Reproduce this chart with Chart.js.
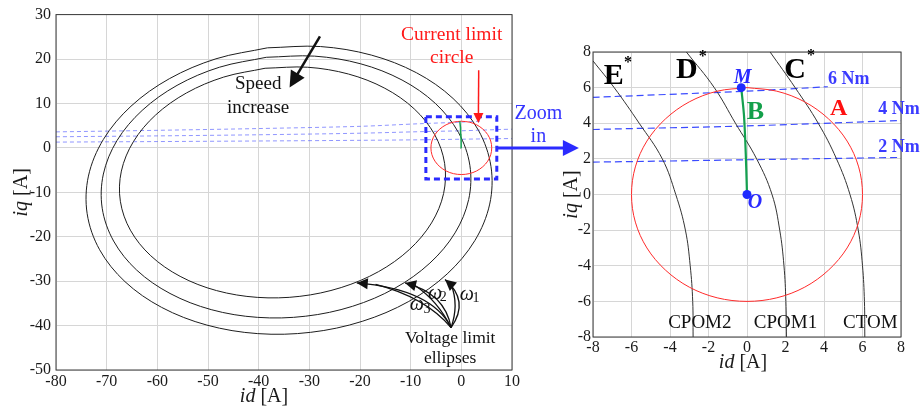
<!DOCTYPE html>
<html lang="en">
<head>
<meta charset="UTF-8">
<title>Voltage and current limits in the id-iq plane</title>
<script src="https://cdn.jsdelivr.net/npm/chart.js"></script>
<style>
  body { margin: 0; background: #fff; }
  #wrap { position: relative; width: 922px; height: 416px; }
  canvas { position: absolute; top: 0; }
</style>
</head>
<body>
<div id="wrap">
  <canvas id="fullChart" width="600" height="416" style="left:0"></canvas>
  <canvas id="zoomChart" width="362" height="416" style="left:560px"></canvas>
</div>
<script>
// tick labels
const fullIdTicks = [-80, -70, -60, -50, -40, -30, -20, -10, 0, 10];
const fullIqTicks = [-50, -40, -30, -20, -10, 0, 10, 20, 30];
const zoomTicks = [-8, -6, -4, -2, 0, 2, 4, 6, 8];

// voltage limit ellipses [id, iq] (A)
const omega1 = [[-38.27,22.52],[-48.43,20.05],[-57.63,15.57],[-65.2,9.38],[-70.65,1.9],[-73.6,-6.35],[-73.85,-14.82],[-71.39,-22.93],[-66.38,-30.12],[-59.16,-35.9],[-50.23,-39.89],[-40.19,-41.81],[-29.73,-41.52],[-19.57,-39.05],[-10.37,-34.57],[-2.8,-28.38],[2.65,-20.9],[5.6,-12.65],[5.85,-4.18],[3.39,3.93],[-1.63,11.12],[-8.84,16.9],[-17.77,20.89],[-27.81,22.81],[-38.27,22.52]];
const omega2 = [[-38.49,20.39],[-47.75,18.15],[-56.11,14.07],[-63.0,8.43],[-67.97,1.63],[-70.65,-5.89],[-70.88,-13.59],[-68.63,-20.97],[-64.08,-27.51],[-57.5,-32.77],[-49.37,-36.41],[-40.23,-38.15],[-30.71,-37.89],[-21.45,-35.65],[-13.09,-31.57],[-6.2,-25.93],[-1.24,-19.13],[1.45,-11.62],[1.68,-3.91],[-0.57,3.47],[-5.13,10.01],[-11.7,15.27],[-19.83,18.91],[-28.97,20.65],[-38.49,20.39]];
const omega3 = [[-38.73,17.92],[-46.89,15.94],[-54.27,12.35],[-60.36,7.38],[-64.73,1.39],[-67.1,-5.23],[-67.3,-12.02],[-65.32,-18.52],[-61.3,-24.28],[-55.5,-28.92],[-48.33,-32.12],[-40.27,-33.65],[-31.87,-33.42],[-23.71,-31.44],[-16.33,-27.85],[-10.25,-22.88],[-5.88,-16.89],[-3.5,-10.27],[-3.3,-3.48],[-5.28,3.02],[-9.3,8.78],[-15.1,13.42],[-22.27,16.62],[-30.33,18.15],[-38.73,17.92]];

// current limit circle (6 A)
const currentLimit = [[0,6],[-1.55,5.8],[-3,5.2],[-4.24,4.24],[-5.2,3],[-5.8,1.55],[-6,0],[-5.8,-1.55],[-5.2,-3],[-4.24,-4.24],[-3,-5.2],[-1.55,-5.8],[0,-6],[1.55,-5.8],[3,-5.2],[4.24,-4.24],[5.2,-3],[5.8,-1.55],[6,0],[5.8,1.55],[5.2,3],[4.24,4.24],[3,5.2],[1.55,5.8],[0,6]];

// constant torque lines
const torque6 = [[-80,3.6],[-60,3.95],[-40,4.35],[-20,4.85],[-8,5.45],[0,5.8],[4.2,6.05]];
const torque4 = [[-80,2.5],[-60,2.7],[-40,2.95],[-20,3.3],[-8,3.65],[0,3.85],[8,4.15],[10,4.2]];
const torque2 = [[-80,1.3],[-60,1.42],[-40,1.55],[-20,1.7],[-8,1.82],[0,1.95],[8,2.08],[10,2.1]];

// operating mode boundaries (zoomed plot)
const cpom2 = [[-8,7.5],[-6.9,6],[-5.6,4],[-4.4,2],[-3.7,0],[-3.2,-2],[-2.95,-4],[-2.82,-6],[-2.8,-8]];
const cpom1 = [[-3.15,8],[-1.7,6],[-0.6,4],[0.5,2],[1.3,0],[1.7,-2],[1.92,-4],[2.02,-6],[2.05,-8]];
const ctom = [[1.2,8],[2.5,6],[3.7,4],[4.65,2],[5.35,0],[5.78,-2],[6.0,-4],[6.1,-6],[6.12,-8]];

// trajectory B from O to M
const pathB = [[0,0],[-0.04,1.5],[-0.09,3],[-0.16,4.5],[-0.3,6]];
const keyPoints = [[-0.3,6],[0,0]];

const SERIF = '"Liberation Serif", "Times New Roman", serif';
Chart.defaults.font.family = SERIF;
Chart.defaults.color = '#1a1a1a';

const xy = arr => arr.map(([x, y]) => ({ x, y }));

function curve(points, color, width, dash, tension) {
    return {
        data: xy(points), showLine: true, borderColor: color, borderWidth: width,
        borderDash: dash || [], pointRadius: 0, tension: tension === undefined ? 0.4 : tension, fill: false
    };
}

function axis(ticks, pad, size, fit) {
    return {
        type: 'linear', min: ticks[0], max: ticks[ticks.length - 1],
        ticks: { stepSize: ticks[1] - ticks[0], font: { size: 16 }, padding: pad, color: '#1a1a1a', maxRotation: 0 },
        grid: { color: '#d6d6d6', drawTicks: false },
        border: { display: false },
        afterFit: s => { s[fit] = size; }
    };
}

function txt(ctx, s, x, y, font, color, align) {
    ctx.font = font;
    ctx.fillStyle = color;
    ctx.textAlign = align || 'center';
    ctx.textBaseline = 'middle';
    ctx.fillText(s, x, y);
}

function mixed(ctx, parts, x, y, color) {
    let w = 0;
    parts.forEach(p => { ctx.font = p[1]; w += ctx.measureText(p[0]).width; });
    let cx = x - w / 2;
    ctx.fillStyle = color;
    ctx.textAlign = 'left';
    ctx.textBaseline = 'middle';
    parts.forEach(p => { ctx.font = p[1]; ctx.fillText(p[0], cx, y); cx += ctx.measureText(p[0]).width; });
}

function head(ctx, x, y, ang, len, half, color) {
    ctx.save();
    ctx.translate(x, y);
    ctx.rotate(ang);
    ctx.beginPath();
    ctx.moveTo(0, 0);
    ctx.lineTo(-len, half);
    ctx.lineTo(-len, -half);
    ctx.closePath();
    ctx.fillStyle = color;
    ctx.fill();
    ctx.restore();
}

function arrow(ctx, x1, y1, x2, y2, lw, len, half, color) {
    const ang = Math.atan2(y2 - y1, x2 - x1);
    ctx.beginPath();
    ctx.moveTo(x1, y1);
    ctx.lineTo(x2 - Math.cos(ang) * len * 0.8, y2 - Math.sin(ang) * len * 0.8);
    ctx.strokeStyle = color;
    ctx.lineWidth = lw;
    ctx.setLineDash([]);
    ctx.stroke();
    head(ctx, x2, y2, ang, len, half, color);
}

function frame(chart) {
    const a = chart.chartArea, ctx = chart.ctx;
    ctx.strokeStyle = '#3a3a3a';
    ctx.lineWidth = 1;
    ctx.setLineDash([]);
    ctx.strokeRect(a.left, a.top, a.right - a.left, a.bottom - a.top);
}

function axisTitles(chart, dx, dyX, dxY) {
    const a = chart.chartArea, ctx = chart.ctx;
    const it = 'italic 20px ' + SERIF, up = '20px ' + SERIF;
    mixed(ctx, [['id', it], [' [A]', up]], (a.left + a.right) / 2 + dx, a.bottom + dyX, '#1a1a1a');
    ctx.save();
    ctx.translate(a.left - dxY, (a.top + a.bottom) / 2);
    ctx.rotate(-Math.PI / 2);
    mixed(ctx, [['iq', it], [' [A]', up]], 0, 0, '#1a1a1a');
    ctx.restore();
}

// annotations on the full plot
const fullNotes = {
    id: 'fullNotes',
    afterDraw(chart) {
        const ctx = chart.ctx, sx = chart.scales.x, sy = chart.scales.y;
        const P = (x, y) => [sx.getPixelForValue(x), sy.getPixelForValue(y)];
        ctx.save();
        frame(chart);
        axisTitles(chart, -20, 27, 34);

        // zoom window
        const [bx1, by1] = P(-7, 7), [bx2, by2] = P(7, -7);
        ctx.setLineDash([6, 4]);
        ctx.lineWidth = 3;
        ctx.strokeStyle = '#2b2bff';
        ctx.strokeRect(bx1, by1, bx2 - bx1, by2 - by1);
        ctx.setLineDash([]);

        const f19 = '19px ' + SERIF;
        txt(ctx, 'Speed', ...P(-40.1, 14.4), f19, '#111');
        txt(ctx, 'increase', ...P(-40.1, 9.0), f19, '#111');
        arrow(ctx, ...P(-27.9, 25.1), ...P(-33.9, 13.6), 2.5, 16, 8, '#111');

        txt(ctx, 'Current limit', ...P(-1.9, 25.5), '19.5px ' + SERIF, '#ff1a1a');
        txt(ctx, 'circle', ...P(-1.9, 20.3), '19.5px ' + SERIF, '#ff1a1a');
        arrow(ctx, ...P(3.43, 17.5), ...P(3.36, 5.6), 1.5, 10, 5, '#ff1a1a');

        txt(ctx, 'Zoom', ...P(15.2, 7.7), '20px ' + SERIF, '#3535ff');
        txt(ctx, 'in', ...P(15.2, 2.5), '20px ' + SERIF, '#3535ff');
        arrow(ctx, ...P(7, 0), ...P(23.2, 0), 3, 16, 8, '#2b2bff');

        txt(ctx, 'Voltage limit', ...P(-2.2, -43.0), '17.5px ' + SERIF, '#111');
        txt(ctx, 'ellipses', ...P(-2.2, -47.4), '17.5px ' + SERIF, '#111');

        // curved arrows from the label to each ellipse
        const base = P(-2.03, -40.46);
        const swoosh = [
            [[-3.22, -29.65], [1.72, -34.47], [-0.45, -35.35]],
            [[-11.11, -30.4], [-3.22, -32.69], [-4.6, -34.47]],
            [[-20.64, -30.4], [-5.78, -31.8], [-7.16, -33.6]]
        ];
        swoosh.forEach(([tip, c1, c2]) => {
            const t = P(...tip), a = P(...c1), b = P(...c2);
            ctx.strokeStyle = '#111';
            ctx.lineWidth = 1.3;
            ctx.beginPath();
            ctx.moveTo(...base);
            ctx.quadraticCurveTo(...a, ...t);
            ctx.stroke();
            ctx.beginPath();
            ctx.moveTo(...base);
            ctx.quadraticCurveTo(...b, t[0] + (a[0] - t[0]) * 0.25, t[1] + (a[1] - t[1]) * 0.25);
            ctx.stroke();
            head(ctx, t[0], t[1], Math.atan2(t[1] - a[1], t[0] - a[0]), 11, 5.5, '#111');
        });

        const w = 'italic 20px ' + SERIF, s = '14px ' + SERIF;
        txt(ctx, '\u03c9', ...P(1.07, -33.0), w, '#111');
        txt(ctx, '1', ...P(2.9, -33.9), s, '#111');
        txt(ctx, '\u03c9', ...P(-5.2, -32.8), w, '#111');
        txt(ctx, '2', ...P(-3.55, -33.6), s, '#111');
        txt(ctx, '\u03c9', ...P(-8.8, -35.2), w, '#111');
        txt(ctx, '3', ...P(-6.8, -36.3), s, '#111');
        ctx.restore();
    }
};

// annotations on the zoomed plot
const zoomNotes = {
    id: 'zoomNotes',
    afterDraw(chart) {
        const ctx = chart.ctx, sx = chart.scales.x, sy = chart.scales.y;
        const P = (x, y) => [sx.getPixelForValue(x), sy.getPixelForValue(y)];
        ctx.save();
        frame(chart);
        axisTitles(chart, -4, 26, 21);

        const big = 'bold 30px ' + SERIF, star = 'bold 16px ' + SERIF;
        txt(ctx, 'E', ...P(-6.92, 6.63), big, '#000');
        txt(ctx, '*', ...P(-6.18, 7.38), star, '#000');
        txt(ctx, 'D', ...P(-3.12, 6.98), big, '#000');
        txt(ctx, '*', ...P(-2.3, 7.75), star, '#000');
        txt(ctx, 'C', ...P(2.5, 6.95), big, '#000');
        txt(ctx, '*', ...P(3.32, 7.79), star, '#000');

        const nm = 'bold 18px ' + SERIF;
        txt(ctx, '6 Nm', ...P(5.28, 6.48), nm, '#3b3bff');
        txt(ctx, '4 Nm', ...P(7.89, 4.8), nm, '#3b3bff');
        txt(ctx, '2 Nm', ...P(7.89, 2.64), nm, '#3b3bff');

        txt(ctx, 'A', ...P(4.76, 4.79), 'bold 24px ' + SERIF, '#ff1010');
        txt(ctx, 'B', ...P(0.44, 4.62), 'bold 26px ' + SERIF, '#13a04a');
        txt(ctx, 'M', ...P(-0.22, 6.54), 'italic bold 20px ' + SERIF, '#2a2aff');
        txt(ctx, 'O', ...P(0.42, -0.48), 'italic bold 20px ' + SERIF, '#2a2aff');

        const lab = '19px ' + SERIF;
        txt(ctx, 'CPOM2', ...P(-2.45, -7.22), lab, '#111');
        txt(ctx, 'CPOM1', ...P(2.0, -7.22), lab, '#111');
        txt(ctx, 'CTOM', ...P(6.41, -7.22), lab, '#111');
        ctx.restore();
    }
};

const torqueFaint = 'rgba(70, 80, 255, 0.6)';
const torqueBlue = '#3b4bff';

new Chart(document.getElementById('fullChart'), {
    type: 'scatter',
    data: {
        datasets: [
            curve(pathB, '#14a050', 1.5, null, 0),
            curve(currentLimit, '#ff2a2a', 1, null, 0.34),
            curve(omega1, '#1e1e1e', 1, null, 0.34),
            curve(omega2, '#1e1e1e', 1, null, 0.34),
            curve(omega3, '#1e1e1e', 1, null, 0.34),
            curve(torque6, torqueFaint, 1, [4, 3], 0.3),
            curve(torque4, torqueFaint, 1, [4, 3], 0.3),
            curve(torque2, torqueFaint, 1, [4, 3], 0.3)
        ]
    },
    options: {
        responsive: false,
        animation: false,
        layout: { padding: { left: 0, top: 9, right: 88, bottom: 0 } },
        plugins: { legend: { display: false }, tooltip: { enabled: false } },
        scales: {
            x: axis(fullIdTicks, 2, 46, 'height'),
            y: axis(fullIqTicks, 5, 56, 'width')
        }
    },
    plugins: [fullNotes]
});

new Chart(document.getElementById('zoomChart'), {
    type: 'scatter',
    data: {
        datasets: [
            { data: xy(keyPoints), pointRadius: 4.5, pointBackgroundColor: '#1f2bff', pointBorderWidth: 0, showLine: false },
            curve(pathB, '#14a050', 2.2, null, 0.3),
            curve(currentLimit, '#ff2a2a', 1, null, 0.34),
            curve(cpom2, '#333', 1, null, 0.4),
            curve(cpom1, '#333', 1, null, 0.4),
            curve(ctom, '#333', 1, null, 0.4),
            curve(torque6, torqueBlue, 1.2, [7, 4], 0.3),
            curve(torque4, torqueBlue, 1.2, [7, 4], 0.3),
            curve(torque2, torqueBlue, 1.2, [7, 4], 0.3)
        ]
    },
    options: {
        responsive: false,
        animation: false,
        layout: { padding: { left: 0, top: 52, right: 21, bottom: 0 } },
        plugins: { legend: { display: false }, tooltip: { enabled: false } },
        scales: {
            x: axis(zoomTicks, 1, 79, 'height'),
            y: axis(zoomTicks, 2, 33, 'width')
        }
    },
    plugins: [zoomNotes]
});
</script>
</body>
</html>
